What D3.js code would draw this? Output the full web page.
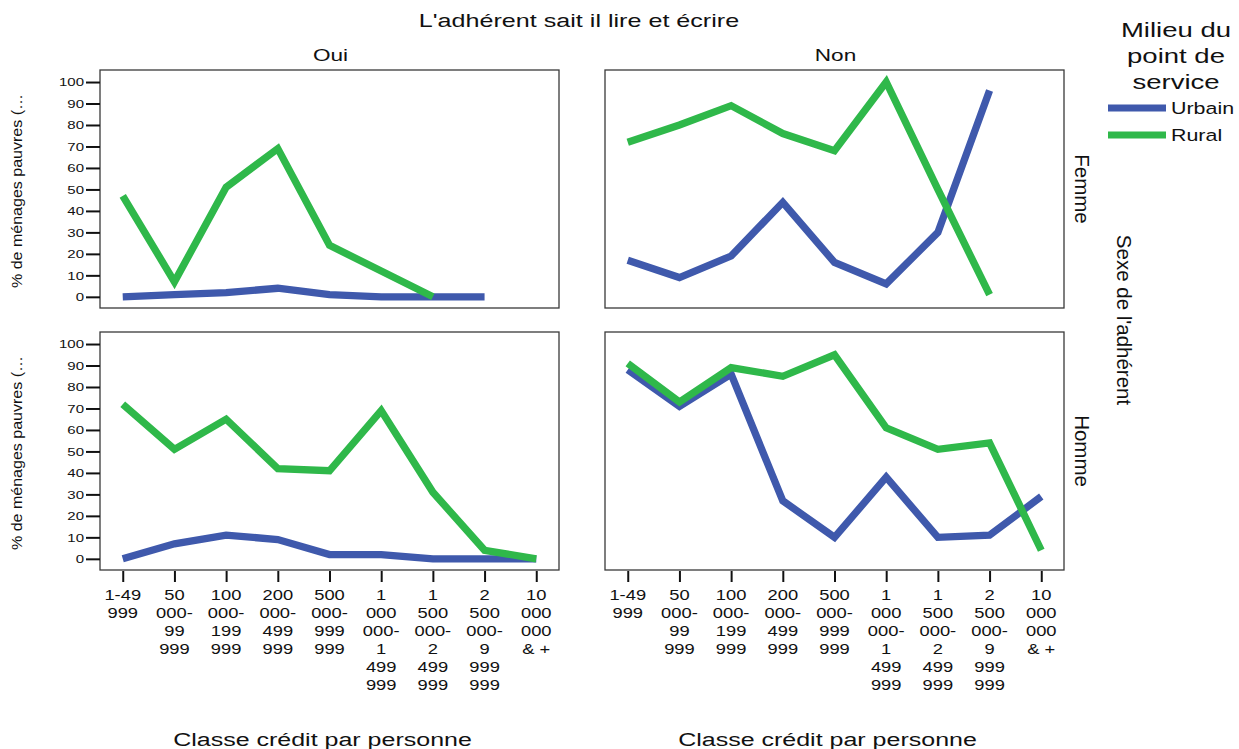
<!DOCTYPE html>
<html>
<head>
<meta charset="utf-8">
<script src="https://cdn.jsdelivr.net/npm/d3@7"></script>
<style>
  body { margin: 0; background: #fff; }
  svg { display: block; }
  text { font-family: "Liberation Sans", Arial, Helvetica, sans-serif; fill: #111; }
</style>
</head>
<body>
<svg id="chart" width="1239" height="749"></svg>
<script>
// Credit classes (x axis), column / row facets and colour groups
const categories = [
  "1-49 999", "50 000-99 999", "100 000-199 999", "200 000-499 999",
  "500 000-999 999", "1 000 000-1 499 999", "1 500 000-2 499 999",
  "2 500 000-9 999 999", "10 000 000 & +"
];
const literacyGroups = ["Oui", "Non"];
const sexGroups = ["Femme", "Homme"];
const settingGroups = ["Urbain", "Rural"];
const yTicks = [0, 10, 20, 30, 40, 50, 60, 70, 80, 90, 100];

// % de ménages pauvres, per credit class (null = no observation)
const urbainOuiFemme = [0, 1, 2, 4, 1, 0, 0, 0, null];
const ruralOuiFemme  = [47, 7, 51, 69, 24, 12, 0, null, null];
const urbainNonFemme = [17, 9, 19, 44, 16, 6, 30, 96, null];
const ruralNonFemme  = [72, 80, 89, 76, 68, 100, 50, 1, null];
const urbainOuiHomme = [0, 7, 11, 9, 2, 2, 0, 0, 0];
const ruralOuiHomme  = [72, 51, 65, 42, 41, 69, 31, 4, 0];
const urbainNonHomme = [88, 71, 86, 27, 10, 38, 10, 11, 29];
const ruralNonHomme  = [91, 73, 89, 85, 95, 61, 51, 54, 4];

const seriesTable = {
  "Oui|Femme": { Urbain: urbainOuiFemme, Rural: ruralOuiFemme },
  "Non|Femme": { Urbain: urbainNonFemme, Rural: ruralNonFemme },
  "Oui|Homme": { Urbain: urbainOuiHomme, Rural: ruralOuiHomme },
  "Non|Homme": { Urbain: urbainNonHomme, Rural: ruralNonHomme }
};

const colors = { Urbain: "#3f59ac", Rural: "#2fb84a" };
const stretch = 1.33;           // wide typeface look for horizontal text

const svg = d3.select("#chart");
const panelW = 459, panelH = 238;
const colX = [100, 605];
const rowY = [70, 332];

const x = d3.scalePoint().domain(categories).range([0, panelW]).padding(0.44);
const y = d3.scaleLinear().domain([-5.2, 105.6]).range([panelH, 0]);

function wideText(g, tx, ty, str, size, anchor) {
  return g.append("text")
    .attr("transform", `translate(${tx},${ty}) scale(${stretch},1)`)
    .attr("text-anchor", anchor || "middle")
    .style("font-size", size + "px")
    .text(str);
}

// Split a category label into lines: break at spaces and after hyphens
const measurer = svg.append("text").style("font-size", "13.8px").attr("visibility", "hidden");
function textWidth(s) { measurer.text(s); return measurer.node().getComputedTextLength(); }
function wrapLabel(label, maxW) {
  const tokens = [];
  label.split(" ").forEach(word => {
    const parts = word.split(/(?<=-)/);
    parts.forEach((p, i) => tokens.push({ t: p, glue: i === 0 ? " " : "" }));
  });
  const lines = [];
  let cur = "";
  tokens.forEach(tok => {
    if (!cur) { cur = tok.t; return; }
    const cand = cur + tok.glue + tok.t;
    if (textWidth(cand) <= maxW) cur = cand; else { lines.push(cur); cur = tok.t; }
  });
  if (cur) lines.push(cur);
  return lines;
}
const wrapMax = 13.8 * 2.2;

const line = d3.line()
  .defined(d => d != null)
  .x(d => x(d.cat))
  .y(d => y(d.v));

sexGroups.forEach((sex, r) => {
  literacyGroups.forEach((lit, c) => {
    const g = svg.append("g").attr("transform", `translate(${colX[c]},${rowY[r]})`);
    const data = seriesTable[lit + "|" + sex];

    settingGroups.forEach(s => {
      const pts = data[s].map((v, i) => (v == null ? null : { cat: categories[i], v }));
      g.append("path")
        .datum(pts)
        .attr("d", line)
        .attr("fill", "none")
        .attr("stroke", colors[s])
        .attr("stroke-width", 7.3)
        .attr("stroke-linejoin", "miter")
        .attr("stroke-miterlimit", 6);
    });

    g.append("rect")
      .attr("width", panelW).attr("height", panelH)
      .attr("fill", "none").attr("stroke", "#3a3a3a").attr("stroke-width", 1.3);

    if (c === 0) {
      const ax = g.append("g").call(
        d3.axisLeft(y).tickValues(yTicks).tickSize(14).tickSizeOuter(0).tickPadding(2)
      );
      ax.select(".domain").remove();
      ax.selectAll(".tick line").attr("stroke", "#111").attr("stroke-width", 2);
      ax.selectAll(".tick text")
        .attr("x", null).attr("dy", "0.35em")
        .attr("transform", `translate(-16,0) scale(${stretch},1)`)
        .attr("fill", "#111")
        .style("font-size", "11.3px")
        .style("font-family", "'Liberation Sans', Arial, sans-serif");

      g.append("text")
        .attr("transform", `translate(-78,${panelH / 2 + 2}) rotate(-90)`)
        .attr("text-anchor", "middle")
        .attr("textLength", 194)
        .attr("lengthAdjust", "spacingAndGlyphs")
        .style("font-size", "15px")
        .text("% de ménages pauvres (…");
    }

    if (r === 1) {
      const ax = g.append("g").attr("transform", `translate(0,${panelH + 1})`)
        .call(d3.axisBottom(x).tickSize(11).tickSizeOuter(0).tickFormat(""));
      ax.select(".domain").remove();
      ax.selectAll(".tick line").attr("stroke", "#111").attr("stroke-width", 2);

      categories.forEach(cat => {
        const lines = wrapLabel(cat, wrapMax);
        const t = g.append("text")
          .attr("transform", `translate(${x(cat)},${panelH + 30}) scale(${stretch},1)`)
          .attr("text-anchor", "middle")
          .style("font-size", "13.8px");
        lines.forEach((ln, i) => {
          t.append("tspan").attr("x", 0).attr("y", i * 18).text(ln);
        });
      });

      wideText(svg, colX[c] + panelW / 2 - 7, 746, "Classe crédit par personne", 18.8);
    }

    if (r === 0) {
      wideText(svg, colX[c] + panelW / 2 + 1, 61, lit, 17);
    }

    if (c === 1) {
      svg.append("text")
        .attr("transform", `translate(1075,${rowY[r] + panelH / 2}) rotate(90)`)
        .attr("text-anchor", "middle")
        .style("font-size", "20.5px")
        .text(sex);
    }
  });
});

measurer.remove();

// Column facet title and row facet title
wideText(svg, 579, 27, "L'adhérent sait il lire et écrire", 18.9);
svg.append("text")
  .attr("transform", `translate(1117,${(rowY[0] + rowY[1] + panelH) / 2}) rotate(90)`)
  .attr("text-anchor", "middle")
  .style("font-size", "20.5px")
  .text("Sexe de l'adhérent");

// Legend
const legend = svg.append("g");
["Milieu du", "point de", "service"].forEach((ln, i) => {
  wideText(legend, 1176, 37 + i * 26, ln, 20.7);
});
settingGroups.forEach((s, i) => {
  const ly = 108 + i * 27;
  legend.append("line")
    .attr("x1", 1108).attr("x2", 1166).attr("y1", ly).attr("y2", ly)
    .attr("stroke", colors[s]).attr("stroke-width", 7);
  wideText(legend, 1171, ly + 6, s, 16.1, "start");
});
</script>
</body>
</html>
